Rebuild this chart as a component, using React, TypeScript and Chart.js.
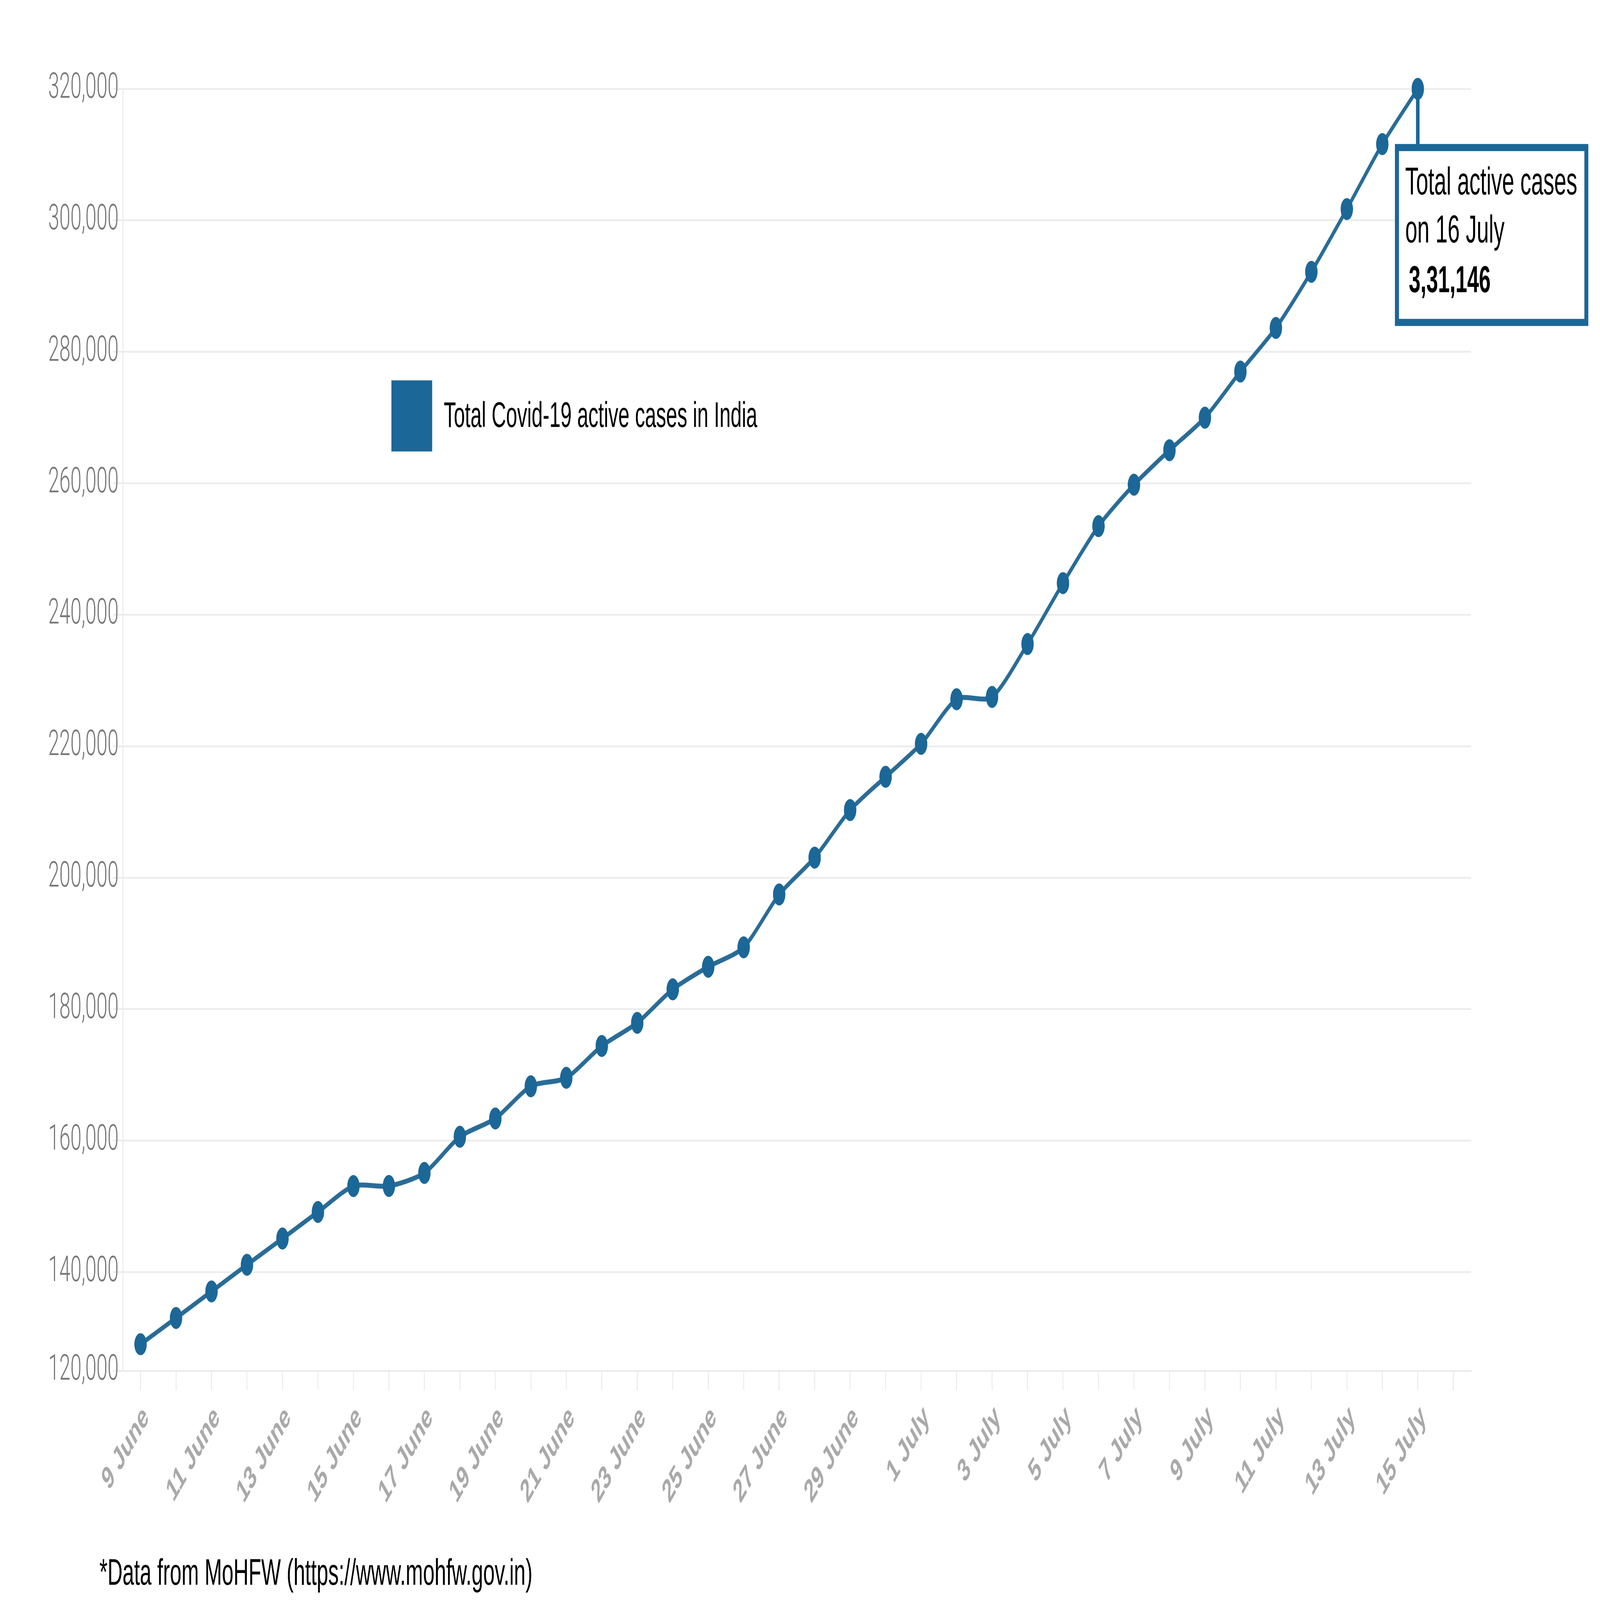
import { useEffect, useRef } from 'react';
import { Chart, registerables, Plugin } from 'chart.js';

Chart.register(...registerables);

const categories = [
  '9 June', '10 June', '11 June', '12 June', '13 June', '14 June', '15 June', '16 June',
  '17 June', '18 June', '19 June', '20 June', '21 June', '22 June', '23 June', '24 June',
  '25 June', '26 June', '27 June', '28 June', '29 June', '30 June',
  '1 July', '2 July', '3 July', '4 July', '5 July', '6 July', '7 July', '8 July',
  '9 July', '10 July', '11 July', '12 July', '13 July', '14 July', '15 July', '16 July',
];

const activeCases = [
  129030, 133020, 137060, 141120, 145110, 149150, 153090, 153100,
  155090, 160590, 163370, 168270, 169560, 174400, 177920, 183020,
  186450, 189410, 197450, 203050, 210290, 215350,
  220360, 227150, 227500, 235540, 244810, 253480, 259780, 265030,
  269980, 276990, 283630, 292170, 301710, 311600, 320000, null,
];

const yTickValues = [125000, 140000, 160000, 180000, 200000, 220000, 240000, 260000, 280000, 300000, 320000];
const yTickLabels = ['120,000', '140,000', '160,000', '180,000', '200,000', '220,000', '240,000', '260,000', '280,000', '300,000', '320,000'];

const seriesLabel = 'Total Covid-19 active cases in India';
const calloutLines = ['Total active cases', 'on 16 July'];
const calloutValue = ' 3,31,146';
const sourceNote = '*Data from MoHFW (https://www.mohfw.gov.in)';

const BLUE = '#1b6797';
const LINE_BLUE = '#2a6c97';
const GRID = '#ececec';
const SANS = '"Liberation Sans", Arial, sans-serif';

// the chart is laid out on an 8000 x 4501 sheet and then fitted to the window
const SHEET_W = 8000;
const SHEET_H = 4501;

// legend box, callout and source line drawn on top of the chart
const overlayPlugin: Plugin<'line'> = {
  id: 'overlay',
  afterDraw(chart) {
    const { ctx } = chart;
    ctx.save();
    ctx.textAlign = 'left';
    ctx.textBaseline = 'alphabetic';

    // legend
    ctx.fillStyle = BLUE;
    ctx.fillRect(1957, 1070, 204, 200);
    ctx.fillStyle = '#000';
    ctx.font = `100px ${SANS}`;
    ctx.fillText(String(chart.data.datasets[0].label), 2219, 1201);

    // callout hanging from the last point
    let lastIndex = activeCases.length - 1;
    while (lastIndex > 0 && activeCases[lastIndex] == null) lastIndex--;
    const pt = chart.getDatasetMeta(0).data[lastIndex];
    if (pt) {
      const boxLeft = pt.x - 114;
      const boxTop = 405;
      const boxW = 967;
      const boxH = 512;
      const bw = 20;
      ctx.strokeStyle = BLUE;
      ctx.lineWidth = 18;
      ctx.beginPath();
      ctx.moveTo(pt.x, pt.y);
      ctx.lineTo(pt.x, boxTop + bw / 2);
      ctx.stroke();

      ctx.fillStyle = '#fff';
      ctx.fillRect(boxLeft, boxTop, boxW, boxH);
      ctx.lineWidth = bw;
      ctx.strokeRect(boxLeft + bw / 2, boxTop + bw / 2, boxW - bw, boxH - bw);

      ctx.fillStyle = '#000';
      ctx.font = `109px ${SANS}`;
      calloutLines.forEach((line, i) => {
        ctx.fillText(line, boxLeft + 51, 547 + i * 135);
      });
      ctx.font = `bold 105px ${SANS}`;
      ctx.fillText(calloutValue, boxLeft + 40, 822);
    }

    // source
    ctx.font = `104px ${SANS}`;
    ctx.fillStyle = '#000';
    ctx.fillText(sourceNote, 497, 4458);

    ctx.restore();
  },
};

export default function App() {
  const sheetRef = useRef<HTMLDivElement | null>(null);
  const chartRef = useRef<HTMLCanvasElement | null>(null);
  const chartInstance = useRef<Chart | null>(null);

  useEffect(() => {
    const sheet = sheetRef.current;
    if (!chartRef.current || !sheet) return;

    // fit the sheet to whatever window we actually got
    const fit = () => {
      const kx = window.innerWidth / SHEET_W;
      const ky = window.innerHeight / SHEET_H;
      sheet.style.transform = `scale(${kx}, ${ky})`;
    };
    fit();
    window.addEventListener('resize', fit);

    if (chartInstance.current) {
      chartInstance.current.destroy();
    }

    const ctx = chartRef.current.getContext('2d');
    if (!ctx) return;

    chartInstance.current = new Chart(ctx, {
      type: 'line',
      data: {
        labels: categories,
        datasets: [
          {
            label: seriesLabel,
            data: activeCases,
            borderColor: LINE_BLUE,
            borderWidth: 14,
            backgroundColor: BLUE,
            pointBackgroundColor: BLUE,
            pointBorderColor: BLUE,
            pointBorderWidth: 0,
            pointRadius: 31,
            tension: 0.25,
            fill: false,
            clip: false,
          },
        ],
      },
      options: {
        animation: false,
        responsive: true,
        maintainAspectRatio: false,
        events: [],
        layout: {
          padding: { top: 250, right: 645, bottom: 0, left: 0 },
        },
        plugins: {
          legend: { display: false },
          tooltip: { enabled: false },
        },
        scales: {
          x: {
            type: 'category',
            offset: true,
            afterFit: (scale) => {
              scale.height = 645;
            },
            grid: {
              drawOnChartArea: false,
              offset: false,
              color: GRID,
              lineWidth: 5,
              tickLength: 55,
            },
            border: { color: GRID, width: 5 },
            ticks: {
              autoSkip: false,
              minRotation: 45,
              maxRotation: 45,
              padding: 24,
              labelOffset: 28,
              color: '#a9a9a9',
              font: { family: SANS, size: 91, weight: 'bold' },
              callback: (_value, index) => (index % 2 === 0 ? categories[index] : ''),
            },
          },
          y: {
            min: 125000,
            max: 320000,
            afterFit: (scale) => {
              scale.width = 614;
            },
            afterBuildTicks: (scale) => {
              scale.ticks = yTickValues.map((value) => ({ value }));
            },
            grid: {
              color: GRID,
              lineWidth: 5,
              tickLength: 50,
            },
            border: { color: GRID, width: 5 },
            ticks: {
              padding: -29,
              color: '#777',
              font: { family: 'Roboto, "Liberation Sans", sans-serif', size: 100, weight: 300 },
              callback: (_value, index) => yTickLabels[index],
            },
          },
        },
      },
      plugins: [overlayPlugin],
    });

    return () => {
      window.removeEventListener('resize', fit);
      if (chartInstance.current) {
        chartInstance.current.destroy();
        chartInstance.current = null;
      }
    };
  }, []);

  return (
    <div
      style={{
        position: 'fixed',
        left: 0,
        top: 0,
        width: '100vw',
        height: '100vh',
        overflow: 'hidden',
        background: '#fff',
      }}
    >
      <div
        ref={sheetRef}
        style={{
          width: `${SHEET_W}px`,
          height: `${SHEET_H}px`,
          transformOrigin: '0 0',
        }}
      >
        <canvas ref={chartRef} />
      </div>
    </div>
  );
}
